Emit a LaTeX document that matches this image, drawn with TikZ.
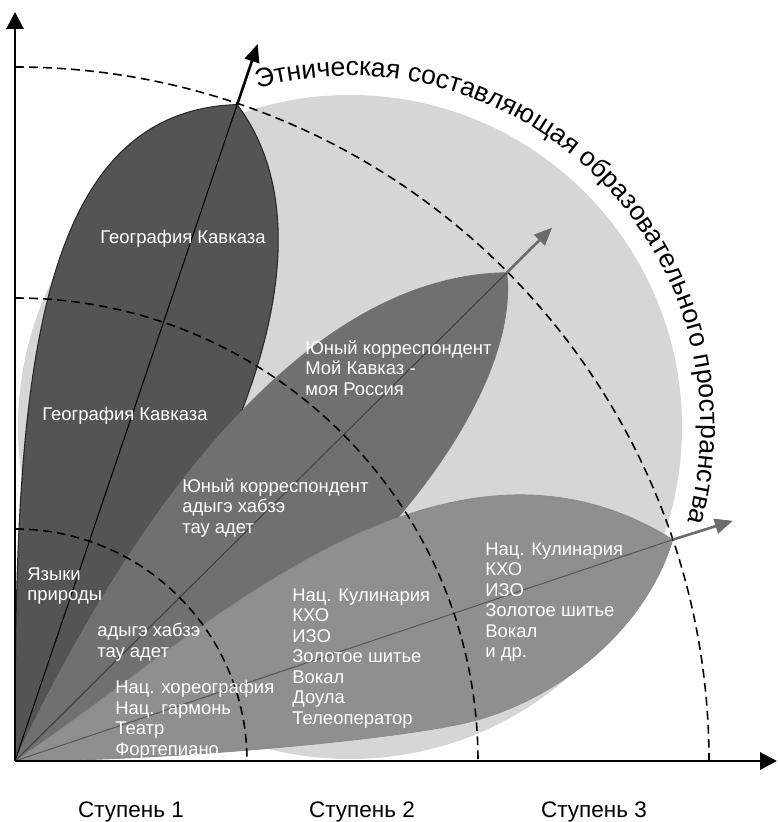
\documentclass[tikz,border=0pt]{standalone}
\usepackage{fontspec}
\setmainfont{Liberation Sans}
\usepackage{tikz}
\usetikzlibrary{arrows.meta, decorations.text}

\definecolor{halo}{gray}{0.84}
\definecolor{petalA}{gray}{0.33}
\definecolor{petalB}{gray}{0.44}
\definecolor{petalC}{gray}{0.56}
\definecolor{raygray}{gray}{0.42}

\newcommand{\titlefont}{\fontsize{15.1}{18}\selectfont}

\tikzset{
    axis/.style={line width=1.7pt, -{Triangle[length=0.34cm, width=0.34cm]}},
    level/.style={line width=0.9pt, dash pattern=on 5pt off 3pt},
    ray/.style={line width=0.6pt},
    tiparrow/.style={line width=1.5pt, -{Triangle[length=0.36cm, width=0.3cm]}},
    lbl/.style={anchor=north west, inner sep=0pt, align=left, text=white,
        font=\fontsize{10.5}{11.7}\selectfont},
    stage/.style={anchor=base, inner sep=0pt, font=\fontsize{12.8}{15}\selectfont}
}

\begin{document}
\begin{tikzpicture}[x=0.02cm, y=0.02cm]
    \useasboundingbox (-15,-61) rectangle (763,761);

    \coordinate (o) at (0,0);
    \coordinate (ytop) at (0,749);
    \coordinate (xend) at (762,0);
    \coordinate (t1) at (71.3:693);
    \coordinate (t2) at (44.8:693);
    \coordinate (t3) at (18.6:694);
    \coordinate (a1) at (71.3:757);
    \coordinate (a2) at (44.8:757);
    \coordinate (a3) at (18.5:757);

    % background disc
    \fill[halo] (335,334) circle[radius=332];

    % petals
    \filldraw[fill=petalA, draw=black!85, line width=0.6pt]
        (o) .. controls (0,350) and (10,650) .. (t1) .. controls (340,500) and (185,200) .. (o);
    \filldraw[fill=petalB, draw=black!55, line width=0.5pt]
        (o) .. controls (90,190) and (265,485) .. (t2) .. controls (510,330) and (250,50) .. (o);
    \filldraw[fill=petalC, draw=black!45, line width=0.5pt]
        (o) .. controls (170,110) and (420,370) .. (t3)
        .. controls (630,130) and (544,64) .. (462,41) .. controls (395,22) and (150,0) .. (o);

    \draw[ray, black] (o) -- (t1);
    \draw[ray, black!75] (o) -- (t2);
    \draw[ray, black!65] (o) -- (t3);

    % levels
    \foreach \r in {232,463,694}
        \draw[level] (0,\r) arc[start angle=90, end angle=0, radius=\r];

    \draw[tiparrow, black] (t1) -- (a1);
    \draw[tiparrow, raygray] (t2) -- (a2);
    \draw[tiparrow, raygray] (t3) -- (a3);

    \path[decorate, decoration={text along path, text align=left,
        text={|\titlefont|Этническая составляющая образовательного пространства}}]
        ([shift={(335,334)}]105.3:351) arc[start angle=105.3, end angle=-30, radius=351];

    \node[lbl] (geoA) at (85,531) {География Кавказа};
    \node[lbl] (geoB) at (27,354) {География Кавказа};
    \node[lbl] (lang) at (12,194) {Языки\\природы};
    \node[lbl] (adygA) at (82,138) {адыгэ хабзэ\\тау адет};
    \node[lbl] (dance) at (100,81) {Нац. хореография\\Нац. гармонь\\Театр\\Фортепиано};
    \node[lbl] (corrA) at (167,283) {Юный корреспондент\\адыгэ хабзэ\\тау адет};
    \node[lbl] (corrB) at (290,421) {Юный корреспондент\\Мой Кавказ -\\моя Россия};
    \node[lbl] (craftA) at (277,173) {Нац. Кулинария\\КХО\\ИЗО\\Золотое шитье\\Вокал\\Доула\\Телеоператор};
    \node[lbl] (craftB) at (470,219) {Нац. Кулинария\\КХО\\ИЗО\\Золотое шитье\\Вокал\\и др.};

    \draw[axis] (o) -- (ytop);
    \draw[axis] (o) -- (xend);

    \node[stage] (s1) at (116,-56) {Ступень 1};
    \node[stage] (s2) at (347,-56) {Ступень 2};
    \node[stage] (s3) at (579,-56) {Ступень 3};
\end{tikzpicture}
\end{document}
